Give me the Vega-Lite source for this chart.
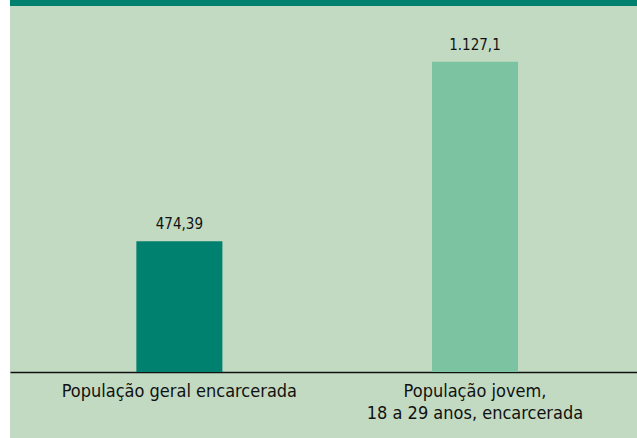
{
  "$schema": "https://vega.github.io/schema/vega-lite/v6.json",
  "width": 627,
  "height": 438,
  "autosize": {"type": "none"},
  "padding": {"left": 10, "top": 0, "right": 0, "bottom": 0},
  "background": "#ffffff",
  "config": {
    "view": {"fill": "#c2dac2", "stroke": null},
    "font": "DejaVu Sans Condensed, Roboto, sans-serif"
  },
  "data": {
    "values": [
      {"grupo": "População geral encarcerada", "valor": 474.39, "rotulo": "474,39", "tipo": "geral"},
      {"grupo": "População jovem,\n18 a 29 anos, encarcerada", "valor": 1127.1, "rotulo": "1.127,1", "tipo": "jovem"}
    ]
  },
  "layer": [
    {
      "mark": {"type": "bar"},
      "encoding": {
        "x": {
          "field": "grupo",
          "type": "nominal",
          "sort": null,
          "scale": {"paddingInner": 0.709, "paddingOuter": 0.415, "align": 0.515},
          "axis": {
            "title": null,
            "orient": "bottom",
            "offset": -66,
            "labelAngle": 0,
            "ticks": false,
            "domainColor": "#111111",
            "domainWidth": 1.5,
            "labelColor": "#111111",
            "labelFontSize": 18,
            "labelFont": "DejaVu Sans Condensed, Roboto, sans-serif",
            "labelPadding": 10,
            "labelLineHeight": 22,
            "labelBaseline": "top",
            "labelLimit": 0,
            "labelExpr": "split(datum.label, '\\n')"
          }
        },
        "y": {
          "field": "valor",
          "type": "quantitative",
          "scale": {"domain": [-240, 1351], "nice": false, "zero": false},
          "axis": null
        },
        "y2": {"datum": 0},
        "color": {
          "field": "tipo",
          "type": "nominal",
          "scale": {"domain": ["geral", "jovem"], "range": ["#00806e", "#7cc3a2"]},
          "legend": null
        }
      }
    },
    {
      "mark": {"type": "text", "baseline": "alphabetic", "dy": -12, "fontSize": 15, "color": "#111111", "font": "DejaVu Sans Condensed, Roboto, sans-serif"},
      "encoding": {
        "x": {"field": "grupo", "type": "nominal", "sort": null},
        "y": {"field": "valor", "type": "quantitative"},
        "text": {"field": "rotulo"}
      }
    },
    {
      "mark": {"type": "rule", "color": "#00806e", "strokeWidth": 12},
      "encoding": {"y": {"datum": 1351}}
    }
  ]
}
